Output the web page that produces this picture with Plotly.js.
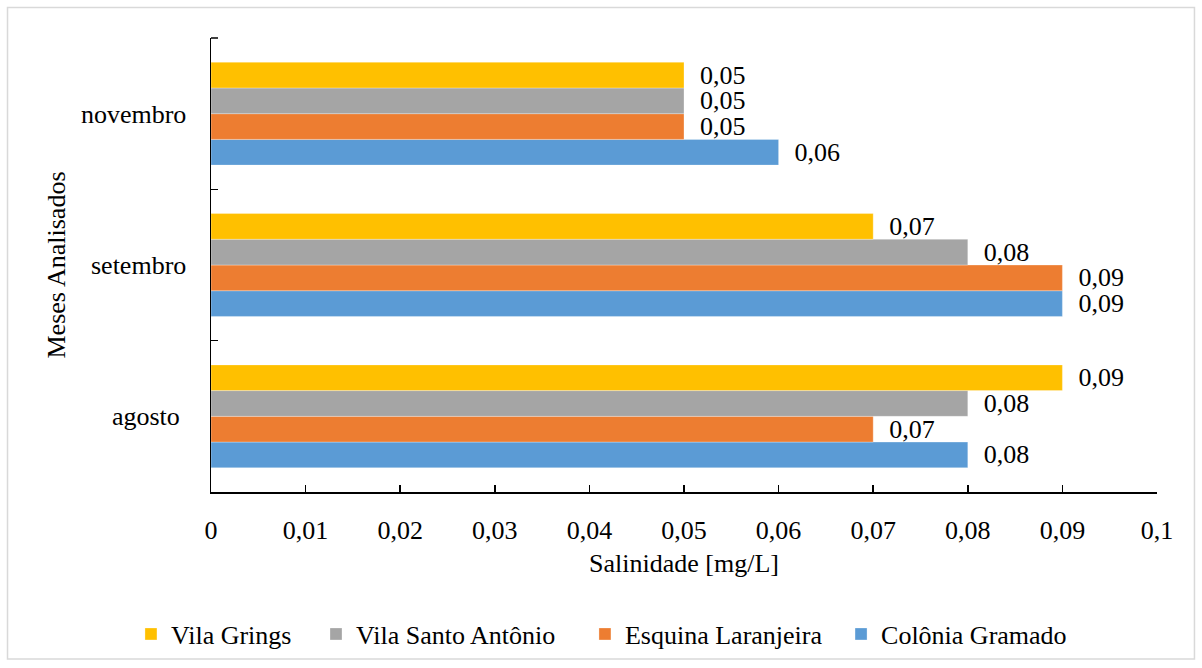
<!DOCTYPE html>
<html>
<head>
<meta charset="utf-8">
<script src="https://cdn.plot.ly/plotly-3.0.1.min.js"></script>
<style>html,body{margin:0;padding:0;background:#fff;}#chart{width:1202px;height:668px;}</style>
</head>
<body>
<div id="chart"></div>
<script>
// Categories (bottom to top)
const months = ["agosto", "setembro", "novembro"];
const monthLabels = ["agosto\u00a0", "setembro", "novembro"];

// Series values (agosto, setembro, novembro)
const colomiaGramado = [0.08, 0.09, 0.06];
const esquinaLaranjeira = [0.07, 0.09, 0.05];
const vilaSantoAntonio = [0.08, 0.08, 0.05];
const vilaGrings = [0.09, 0.07, 0.05];

const seriesNames = ["Colônia Gramado", "Esquina Laranjeira", "Vila Santo Antônio", "Vila Grings"];
const seriesValues = [colomiaGramado, esquinaLaranjeira, vilaSantoAntonio, vilaGrings];
const seriesColors = ["#5B9BD5", "#ED7D31", "#A5A5A5", "#FFC000"];
const seriesLegends = ["legend4", "legend3", "legend2", "legend"];
const legendX = [-0.0846, 0.1110, 0.3953, 0.6660]; // Vila Grings, V. S. Antônio, Esquina, Colônia

const FONT = '"Liberation Serif", "Times New Roman", serif';

const traces = seriesNames.map((name, i) => ({
  type: "bar",
  orientation: "h",
  name: name,
  legend: seriesLegends[i],
  y: months,
  x: seriesValues[i],
  marker: { color: seriesColors[i], line: { color: "rgba(255,255,255,0.6)", width: 0.5 } },
  texttemplate: "\u00a0\u00a0%{x:.2f}",
  textposition: "outside",
  constraintext: "none",
  cliponaxis: false,
  textfont: { family: FONT, size: 26, color: "#000" },
  hoverinfo: "x+name"
}));

function mkLegend(x) {
  return {
    orientation: "h",
    x: x, xanchor: "left",
    y: -0.31, yanchor: "middle",
    bgcolor: "rgba(0,0,0,0)",
    font: { family: FONT, size: 26, color: "#000" }
  };
}

const layout = {
  width: 1202,
  height: 668,
  margin: { l: 211, r: 45, t: 38, b: 175 },
  paper_bgcolor: "#fff",
  plot_bgcolor: "#fff",
  separators: ",.",
  barmode: "group",
  bargap: 0.32,
  bargroupgap: 0,
  font: { family: FONT, size: 26, color: "#000" },
  showlegend: true,
  legend: mkLegend(legendX[0]),
  legend2: mkLegend(legendX[1]),
  legend3: mkLegend(legendX[2]),
  legend4: mkLegend(legendX[3]),
  xaxis: {
    range: [0, 0.1],
    dtick: 0.01,
    tick0: 0,
    showgrid: false,
    zeroline: false,
    showline: true,
    linecolor: "#000",
    linewidth: 1.5,
    ticks: "inside",
    ticklen: 7,
    tickwidth: 1.5,
    tickcolor: "#000",
    ticklabelstandoff: 14,
    tickfont: { family: FONT, size: 26, color: "#000" },
    title: { text: "Salinidade [mg/L]", font: { family: FONT, size: 26, color: "#000" }, standoff: 10 },
    automargin: false
  },
  yaxis: {
    type: "category",
    categoryorder: "array",
    categoryarray: months,
    range: [-0.5, 2.5],
    tickvals: months,
    ticktext: monthLabels,
    showgrid: false,
    zeroline: false,
    showline: true,
    linecolor: "#000",
    linewidth: 1.5,
    ticks: "inside",
    tickson: "boundaries",
    ticklen: 7,
    tickwidth: 1.5,
    tickcolor: "#000",
    ticklabelstandoff: 18,
    tickfont: { family: FONT, size: 26, color: "#000" },
    title: { text: "Meses Analisados", font: { family: FONT, size: 26, color: "#000" }, standoff: 8 },
    automargin: false
  },
  shapes: [
    {
      type: "rect", xref: "paper", yref: "paper",
      x0: -0.2151, x1: 1.0396, y0: -0.368, y1: 1.067,
      line: { color: "#D9D9D9", width: 1.5 }, fillcolor: "rgba(0,0,0,0)", layer: "below"
    },
    {
      type: "line", xref: "paper", yref: "paper",
      x0: 0, x1: 7 / 946, y0: 1, y1: 1,
      line: { color: "#000", width: 1.5 }
    }
  ]
};

Plotly.newPlot("chart", traces, layout, { displayModeBar: false, staticPlot: true });
</script>
</body>
</html>
